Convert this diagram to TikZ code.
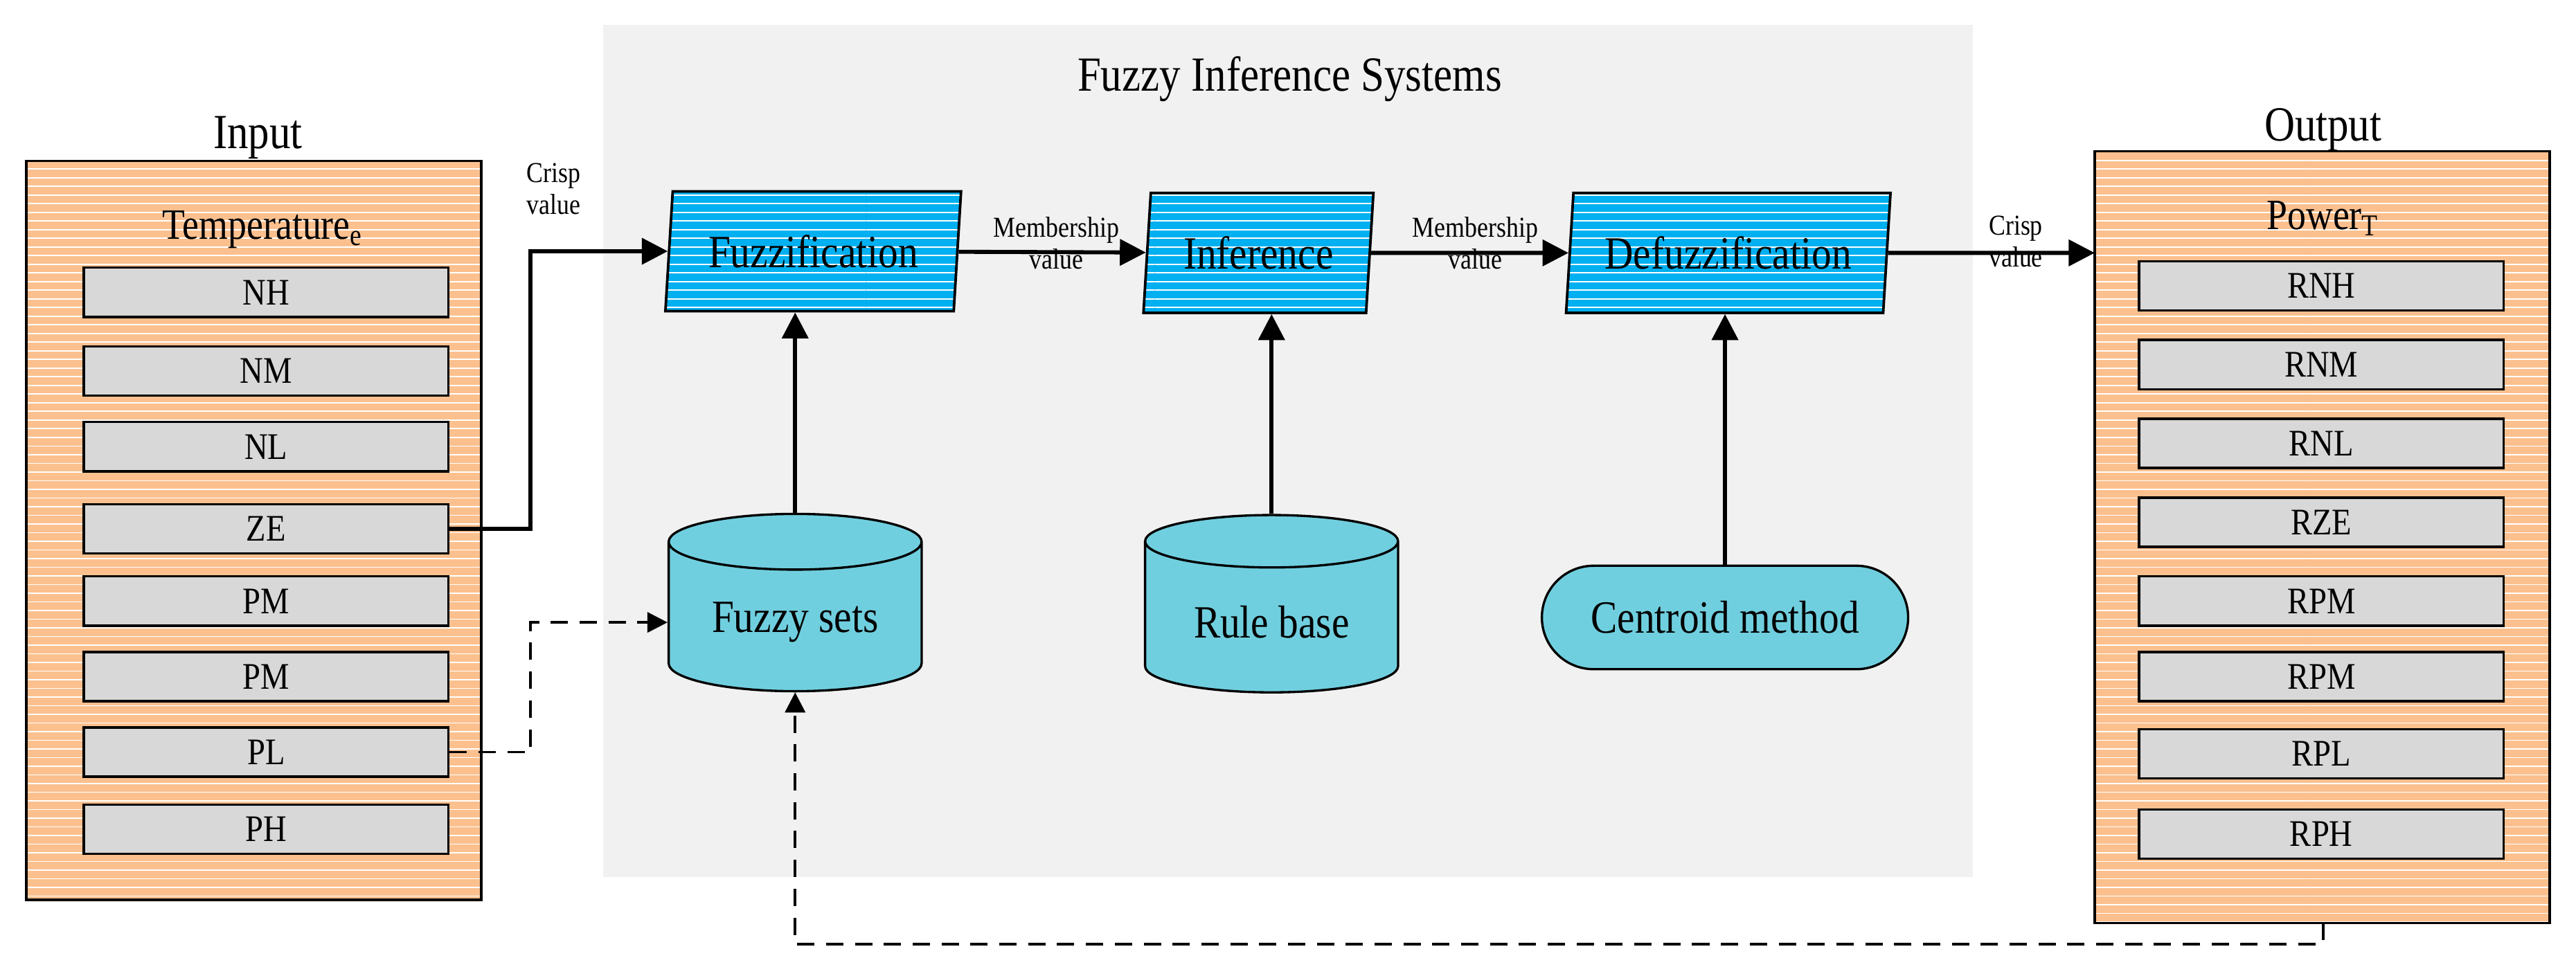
\documentclass[tikz,border=0pt]{standalone}
\usepackage{fontspec}
\setmainfont{Liberation Serif}[FakeStretch=0.86]
\usepackage{tikz}
\usetikzlibrary{arrows.meta,shapes.geometric,patterns}
\definecolor{bgray}{HTML}{F1F1F1}
\definecolor{peach}{HTML}{FBC08E}
\definecolor{sky}{HTML}{00B0F0}
\definecolor{cyl}{HTML}{70CFDF}
\definecolor{itemgray}{HTML}{D8D8D8}

\begin{document}
\begin{tikzpicture}[x=0.02cm,y=-0.02cm]
        \tikzset{panel/.style = {draw,line width=0.8pt,preaction={fill=peach},pattern=horizontal lines,pattern color=white}}
        \tikzset{item/.style = {draw,line width=0.8pt,fill=itemgray,minimum width=4.44cm,minimum height=0.6cm,font=\fontsize{13}{15}\selectfont}}
        \tikzset{stage/.style = {shape=trapezium,trapezium left angle=82,trapezium right angle=98,trapezium stretches body,draw,line width=0.9pt,preaction={fill=sky},pattern=horizontal lines,pattern color=white,minimum height=1.46cm,font=\fontsize{16}{18}\selectfont}}
        \tikzset{store/.style = {shape=cylinder,shape border rotate=90,aspect=0.3,draw,line width=0.8pt,fill=cyl,minimum width=3.08cm,minimum height=2.16cm,font=\fontsize{16}{18}\selectfont}}
        \tikzset{edge/.style = {line width=1.4pt,-{Triangle[length=9pt,width=9pt]}}}
        \tikzset{dashed edge/.style = {line width=0.9pt,dash pattern=on 6pt off 4pt,-{Triangle[length=7pt,width=7pt]}}}
        \tikzset{lbl/.style = {font=\fontsize{10}{11}\selectfont,align=center,inner sep=1pt}}

        \useasboundingbox (0,0) rectangle (1568,594);
        \fill[bgray] (367,15) rectangle (1201,534);
        \node[font=\fontsize{17}{19}\selectfont] (title) at (785,48) {Fuzzy Inference Systems};

        % input side
        \node[font=\fontsize{17}{19}\selectfont] (inlabel) at (157,84) {Input};
        \draw[panel] (16,98) rectangle (293,548);
        \node[font=\fontsize{15}{17}\selectfont] (temp) at (160,140) {Temperature\textsubscript{e}};
        \node[item] (NH) at (162,178) {NH};
        \node[item] (NM) at (162,226) {NM};
        \node[item] (NL) at (162,272) {NL};
        \node[item] (ZE) at (162,322) {ZE};
        \node[item] (PM1) at (162,366) {PM};
        \node[item] (PM2) at (162,412) {PM};
        \node[item] (PL) at (162,458) {PL};
        \node[item] (PH) at (162,505) {PH};

        % output side
        \node[font=\fontsize{17}{19}\selectfont] (outlabel) at (1414,79) {Output};
        \draw[panel] (1275,92) rectangle (1552,562);
        \coordinate (outL) at (1275,154);
        \coordinate (outB) at (1414,562);
        \node[font=\fontsize{15}{17}\selectfont] (power) at (1414,133) {Power\textsubscript{T}};
        \node[item] (RNH) at (1413,174) {RNH};
        \node[item] (RNM) at (1413,222) {RNM};
        \node[item] (RNL) at (1413,270) {RNL};
        \node[item] (RZE) at (1413,318) {RZE};
        \node[item] (RPM1) at (1413,366) {RPM};
        \node[item] (RPM2) at (1413,412) {RPM};
        \node[item] (RPL) at (1413,459) {RPL};
        \node[item] (RPH) at (1413,508) {RPH};

        % inference chain
        \node[stage,minimum width=3.6cm] (fuzz) at (495,153) {Fuzzification};
        \node[stage,minimum width=2.8cm] (inf) at (766,154) {Inference};
        \node[stage,minimum width=3.95cm] (defuzz) at (1052,154) {Defuzzification};

        \node[store] (sets) at (484,379) {Fuzzy sets};
        \node[store] (rules) at (774,379) {Rule base};
        \node[draw,line width=0.8pt,fill=cyl,rounded corners=0.63cm,minimum width=4.46cm,minimum height=1.26cm,font=\fontsize{16}{18}\selectfont] (centroid) at (1050,376) {Centroid method};

        \draw[edge] (ZE.east) -- (323,322) |- (fuzz.west);
        \draw[edge] (fuzz) -- (inf);
        \draw[edge] (inf) -- (defuzz);
        \draw[edge] (defuzz.east) -- (outL);
        \draw[edge] (sets.top) -- (sets.top |- fuzz.south);
        \draw[edge] (rules.top) -- (rules.top |- inf.south);
        \draw[edge] (centroid.north) -- (centroid.north |- defuzz.south);

        \node[lbl] (crisp1) at (337,115) {Crisp\\value};
        \node[lbl] (mem1) at (643,148) {Membership\\value};
        \node[lbl] (mem2) at (898,148) {Membership\\value};
        \node[lbl] (crisp2) at (1227,147) {Crisp\\value};

        \draw[dashed edge] (PL.east) -- (323,458) |- (sets.west);
        \draw[dashed edge] (outB) -- (1414,575) -| (sets.bottom);
    \end{tikzpicture}
\end{document}
